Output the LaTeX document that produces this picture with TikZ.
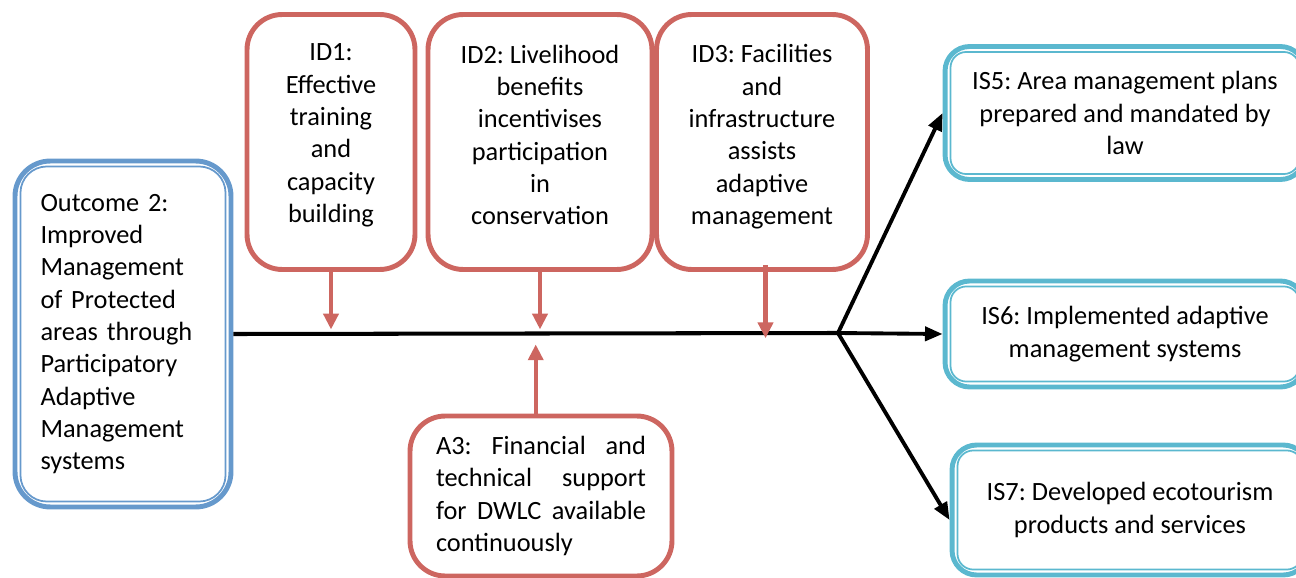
\documentclass[tikz,border=0pt]{standalone}
\usepackage{fontspec}
\setmainfont{Carlito}
\usetikzlibrary{arrows.meta}
\frenchspacing

\definecolor{boxred}{RGB}{205,102,96}
\definecolor{boxblue}{RGB}{102,153,204}
\definecolor{boxteal}{RGB}{91,184,207}

\tikzset{
  idbox/.style={draw=boxred,line width=2.8pt,rounded corners=20pt,align=center,inner sep=0pt},
  outbox/.style={draw=boxblue,line width=2.8pt,rounded corners=20pt,align=left,inner sep=0pt},
  isbox/.style={draw=boxteal,line width=2.8pt,rounded corners=14pt,align=center,inner sep=0pt},
  redarrow/.style={boxred,line width=2.4pt,-{Triangle[length=9pt,width=8.5pt]}},
  blackarrow/.style={black,line width=2.2pt,-{Triangle[length=10pt,width=8pt]}}
}

\begin{document}
\begin{tikzpicture}[x=0.02cm,y=-0.02cm,font=\fontsize{15pt}{18.4pt}\selectfont]

\useasboundingbox (0,0) rectangle (1296,578);
\clip (0,0) rectangle (1296,578);

% outcome
\node [outbox,minimum width=4.32cm,minimum height=6.92cm,text width=3.3cm] (out) at (123,334)
  {Outcome 2:\\Improved\\Management\\of Protected\\areas through\\Participatory\\Adaptive\\Management\\systems};

% drivers
\node [idbox,minimum width=3.36cm,minimum height=5.1cm,text depth=10pt] (id1) at (331,142)
  {ID1:\\Effective\\training\\and\\capacity\\building};
\node [idbox,minimum width=4.48cm,minimum height=5.1cm,text depth=8pt] (id2) at (540,142)
  {ID2: Livelihood\\benefits\\incentivises\\participation\\in\\conservation};
\node [idbox,minimum width=4.22cm,minimum height=5.1cm,text depth=8.5pt] (id3) at (762,142)
  {ID3: Facilities\\and\\infrastructure\\assists\\adaptive\\management};

% assumption
\node [idbox,minimum width=5.24cm,minimum height=3.2cm,text width=4.2cm,align=justify] (a3) at (541,496)
  {A3: Financial and\linebreak technical support\linebreak for DWLC available\linebreak continuously};

% impact statements
\node [isbox,minimum width=7.2cm,minimum height=2.66cm] (is5) at (1125,113)
  {IS5: Area management plans\\prepared and mandated by\\law};
\node [isbox,minimum width=7.2cm,minimum height=2.12cm] (is6) at (1125,334)
  {IS6: Implemented adaptive\\management systems};
\node [isbox,minimum width=7.12cm,minimum height=2.6cm] (is7) at (1130,510)
  {IS7: Developed ecotourism\\products and services};

% inner lines of the double frames
\foreach \n/\c/\r in {out/boxblue/15pt,is5/boxteal/9pt,is6/boxteal/9pt,is7/boxteal/9pt}
  \draw [\c,line width=1pt,rounded corners=\r] ([shift={(4.5pt,-4.5pt)}]\n.north west) rectangle ([shift={(-4.5pt,4.5pt)}]\n.south east);

% main line
\coordinate (j) at (838,333);
\draw [line width=2.3pt] (out.east) -- (j);

\draw [blackarrow] (j) -- (is5.west);
\draw [blackarrow] (j) -- (is6.west);
\draw [blackarrow] (j) -- ([yshift=-5.7pt]is7.west);

\draw [redarrow] (id1.south) -- ([yshift=2pt]id1.south |- j);
\draw [redarrow] (id2.south) -- ([yshift=2pt]id2.south |- j);
\draw [redarrow] ([xshift=2pt,yshift=4pt]id3.south) -- ([xshift=2pt,yshift=-3pt]id3.south |- j);
\draw [redarrow] ([xshift=-3pt]a3.north) -- ([xshift=-3pt,yshift=-6.5pt]a3.north |- j);

\end{tikzpicture}
\end{document}
